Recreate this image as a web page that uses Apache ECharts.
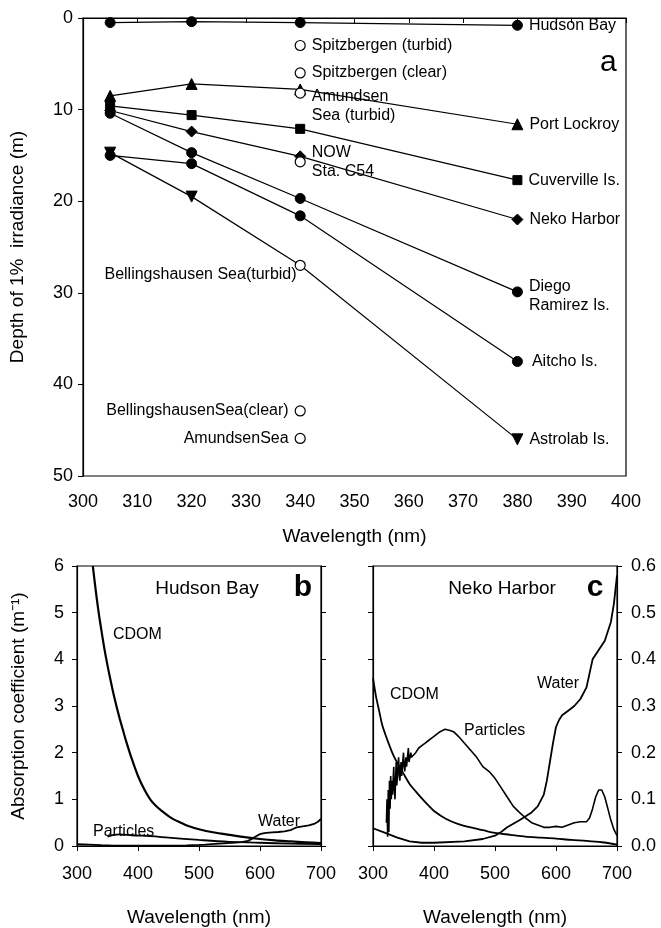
<!DOCTYPE html>
<html>
<head>
<meta charset="utf-8">
<script src="https://cdn.jsdelivr.net/npm/echarts@6/dist/echarts.min.js"></script>
<style>
  html, body { margin: 0; padding: 0; background: #fff; }
  #chart { width: 661px; height: 928px; }
</style>
</head>
<body>
<div id="chart"></div>
<script>
// panel a: depth of 1% irradiance (m) at each wavelength (nm)
const waveA = [305, 320, 340, 380];
const hudsonBay = [0.5, 0.4, 0.5, 0.8];
const portLockroy = [8.5, 7.2, 7.8, 11.6];
const cuverville = [9.6, 10.6, 12.1, 17.7];
const nekoHarbor = [10.1, 12.4, 15.1, 22.0];
const diegoRamirez = [10.4, 14.7, 19.7, 29.9];
const aitcho = [15.0, 15.9, 21.6, 37.5];
const astrolab = [14.7, 19.5, 27.0, 46.0];

// open circles, all at 340 nm
const openWave = 340;
const openNames = ['Spitzbergen (turbid)', 'Spitzbergen (clear)', 'Amundsen\nSea (turbid)', 'NOW\nSta. C54',
  'Bellingshausen Sea(turbid)', 'BellingshausenSea(clear)', 'AmundsenSea'];
const openDepths = [3.0, 6.0, 8.2, 15.7, 27.0, 42.9, 45.9];

// panel b: Hudson Bay absorption (m-1)
const cdomHudson = [[326, 6.0], [330, 5.55], [335, 5.05], [340, 4.62], [345, 4.22], [350, 3.87], [355, 3.55],
  [360, 3.25], [365, 2.98], [370, 2.73], [375, 2.5], [380, 2.27], [390, 1.86], [400, 1.5], [410, 1.22],
  [420, 1.0], [430, 0.85], [440, 0.74], [450, 0.64], [460, 0.56], [470, 0.5], [480, 0.44], [500, 0.36],
  [525, 0.29], [550, 0.24], [575, 0.19], [600, 0.15], [625, 0.12], [650, 0.1], [675, 0.08], [700, 0.06]];
const particlesHudson = [[350, 0.2], [360, 0.24], [370, 0.25], [390, 0.23], [420, 0.21], [450, 0.18],
  [500, 0.13], [550, 0.09], [600, 0.07], [650, 0.05], [700, 0.04]];

// pure water, same in both panels
const waterAbs = [[300, 0.038], [320, 0.028], [340, 0.018], [360, 0.01], [380, 0.007], [400, 0.007], [450, 0.01],
  [480, 0.015], [500, 0.022], [510, 0.03], [520, 0.04], [540, 0.055], [560, 0.072], [570, 0.085], [580, 0.11],
  [585, 0.14], [590, 0.18], [595, 0.22], [600, 0.255], [605, 0.27], [610, 0.28], [620, 0.29], [630, 0.3],
  [640, 0.315], [650, 0.34], [655, 0.37], [660, 0.4], [670, 0.42], [680, 0.44], [690, 0.48], [695, 0.52], [700, 0.58]];

// panel c: Neko Harbor absorption (m-1)
const cdomNeko = [[300, 0.36], [305, 0.32], [310, 0.29], [315, 0.26], [320, 0.24], [325, 0.222], [330, 0.205],
  [335, 0.19], [340, 0.178], [350, 0.155], [360, 0.133], [370, 0.117], [380, 0.102], [390, 0.088], [400, 0.075],
  [420, 0.058], [440, 0.047], [460, 0.04], [480, 0.034], [500, 0.028], [525, 0.024], [550, 0.02], [575, 0.018],
  [600, 0.016], [625, 0.013], [650, 0.011], [675, 0.008], [700, 0.003]];
const particlesNeko = [[322, 0.05], [323, 0.1], [324, 0.02], [325, 0.12], [326, 0.03], [327, 0.14], [328, 0.08],
  [329, 0.15], [330, 0.1], [331, 0.14], [332, 0.11], [334, 0.17], [335, 0.12], [336, 0.1], [338, 0.18], [339, 0.13],
  [340, 0.15], [342, 0.19], [343, 0.15], [344, 0.14], [346, 0.18], [347, 0.15], [348, 0.15], [350, 0.2], [351, 0.17],
  [352, 0.16], [354, 0.19], [355, 0.17], [356, 0.17], [358, 0.21], [359, 0.18], [360, 0.18], [362, 0.2], [363, 0.19],
  [365, 0.19], [370, 0.2], [375, 0.21], [380, 0.215], [385, 0.22], [390, 0.225], [395, 0.23], [400, 0.235],
  [410, 0.245], [418, 0.25], [425, 0.248], [432, 0.245], [440, 0.235], [450, 0.22], [460, 0.205], [470, 0.19],
  [480, 0.17], [490, 0.16], [500, 0.145], [510, 0.125], [520, 0.105], [530, 0.085], [540, 0.072], [550, 0.06],
  [560, 0.05], [570, 0.045], [580, 0.04], [590, 0.04], [600, 0.042], [610, 0.04], [620, 0.045], [630, 0.05],
  [640, 0.052], [650, 0.052], [655, 0.06], [660, 0.08], [665, 0.105], [670, 0.12], [675, 0.12], [680, 0.105],
  [685, 0.08], [690, 0.055], [695, 0.035], [700, 0.022]];

const FONT = 'Liberation Sans, Arial, Helvetica, sans-serif';
const chart = echarts.init(document.getElementById('chart'));

function pair(xs, ys) { return xs.map((x, i) => [x, ys[i]]); }

const nameStyle = { fontSize: 19, color: '#000', fontFamily: FONT };

function xAx(grid, min, max, interval, gap, margin) {
  return {
    type: 'value', gridIndex: grid, min: min, max: max, interval: interval,
    name: 'Wavelength (nm)', nameLocation: 'middle', nameGap: gap,
    nameTextStyle: nameStyle,
    axisLine: { show: true, lineStyle: { color: '#000', width: 1.2 } },
    axisTick: { show: true, inside: false, length: 5, lineStyle: { color: '#000' } },
    axisLabel: { fontSize: 18, color: '#000', fontFamily: FONT, margin: margin },
    splitLine: { show: false }
  };
}
function yAx(grid, min, max, interval, opts) {
  return Object.assign({
    type: 'value', gridIndex: grid, min: min, max: max, interval: interval,
    axisLine: { show: true, lineStyle: { color: '#000', width: 1.2 } },
    axisTick: { show: true, inside: false, length: 5, lineStyle: { color: '#000' } },
    axisLabel: { fontSize: 18, color: '#000', fontFamily: FONT },
    splitLine: { show: false }
  }, opts);
}

const labelStyle = { color: '#000', fontSize: 16, fontFamily: FONT, lineHeight: 19, opacity: 1 };

function station(name, values, symbol, size, rotate, labelOpts) {
  return {
    name: name, type: 'line', xAxisIndex: 0, yAxisIndex: 0,
    data: pair(waveA, values),
    symbol: symbol, symbolSize: size, symbolRotate: rotate || 0,
    showAllSymbol: true,
    lineStyle: { color: '#000', width: 1.2 },
    itemStyle: { color: '#000', borderColor: '#000', opacity: 1 },
    z: 3,
    label: Object.assign({
      show: true, position: 'right', distance: 6,
      formatter: p => p.dataIndex === waveA.length - 1 ? name : ''
    }, labelStyle, labelOpts || {}),
    animation: false
  };
}

// label placement for the open circles (index -> side)
const openLeft = [4, 5, 6];
const openOffset = { 2: [0, 13], 4: [2, 9] };
const openData = openDepths.map((d, i) => ({
  value: [openWave, d],
  label: {
    position: openLeft.indexOf(i) >= 0 ? 'left' : 'right',
    distance: i === 4 ? 0 : 6,
    offset: openOffset[i] || [0, 0]
  }
}));

function curve(data, xi, yi, w, smooth) {
  return {
    type: 'line', xAxisIndex: xi, yAxisIndex: yi, data: data,
    showSymbol: false, symbol: 'none', smooth: smooth || false,
    lineStyle: { color: '#000', width: w }, animation: false
  };
}

function txt(x, y, text, size, align, weight) {
  return {
    type: 'text', x: x, y: y, z: 10,
    style: { text: text, fill: '#000', fontSize: size, fontFamily: FONT, fontWeight: weight || 'normal',
      align: align || 'left', verticalAlign: 'middle' }
  };
}

const option = {
  backgroundColor: '#fff',
  animation: false,
  grid: [
    { left: 73, top: 18, width: 553, height: 458, show: true, borderColor: '#000', borderWidth: 1.2, backgroundColor: 'transparent' },
    { left: 77, top: 566, width: 244, height: 288, show: true, borderColor: '#000', borderWidth: 1.2, backgroundColor: 'transparent' },
    { left: 373, top: 566, width: 244, height: 288, show: true, borderColor: '#000', borderWidth: 1.2, backgroundColor: 'transparent' }
  ],
  xAxis: [
    xAx(0, 300, 400, 10, 51, 17),
    xAx(1, 300, 700, 100, 62, 19),
    xAx(2, 300, 700, 100, 62, 19)
  ],
  yAxis: [
    yAx(0, 0, 50, 10, {
      inverse: true, name: 'Depth of 1%  irradiance (m)', nameLocation: 'middle', nameGap: 56, nameRotate: 90,
      nameTextStyle: nameStyle,
      axisLabel: { fontSize: 18, color: '#000', fontFamily: FONT, margin: 10 }
    }),
    yAx(1, 0, 6, 1, {
      name: 'Absorption coefficient (m\u207B\u00B9)', nameLocation: 'middle', nameGap: 49, nameRotate: 90,
      nameTextStyle: nameStyle,
      axisLabel: { fontSize: 18, color: '#000', fontFamily: FONT, margin: 13 }
    }),
    yAx(1, 0, 6, 1, { position: 'right', axisLabel: { show: false } }),
    yAx(2, 0, 0.6, 0.1, { position: 'left', axisLabel: { show: false } }),
    yAx(2, 0, 0.6, 0.1, {
      position: 'right',
      axisLabel: { fontSize: 18, color: '#000', fontFamily: FONT, margin: 14, formatter: v => v.toFixed(1) }
    })
  ],
  series: [
    station('Hudson Bay', hudsonBay, 'circle', 10, 0, { distance: 6 }),
    station('Port Lockroy', portLockroy, 'triangle', 11, 0),
    station('Cuverville Is.', cuverville, 'rect', 9, 0),
    station('Neko Harbor', nekoHarbor, 'diamond', 11, 0),
    station('Diego\nRamirez Is.', diegoRamirez, 'circle', 10, 0, { offset: [0, 4] }),
    station('Aitcho Is.', aitcho, 'circle', 10, 0, { distance: 9 }),
    Object.assign(station('Astrolab Is.', astrolab, 'triangle', 11, 180), {
      symbolSize: (v, p) => p.dataIndex === 2 ? 0 : 11
    }),
    {
      name: 'open', type: 'scatter', xAxisIndex: 0, yAxisIndex: 0, z: 5,
      data: openData, symbol: 'circle', symbolSize: 10,
      itemStyle: { color: '#fff', borderColor: '#000', borderWidth: 1.2, opacity: 1 },
      label: Object.assign({ show: true, formatter: p => openNames[p.dataIndex] }, labelStyle),
      animation: false
    },
    curve(cdomHudson, 1, 1, 2.2, 0.3),
    curve(particlesHudson, 1, 1, 1.8, 0.4),
    curve(waterAbs, 1, 1, 1.8),
    curve(cdomNeko, 2, 4, 1.8, 0.3),
    curve(particlesNeko, 2, 4, 1.6),
    curve(waterAbs, 2, 4, 1.8)
  ],
  graphic: [
    txt(600, 63, 'a', 30),
    txt(207, 589, 'Hudson Bay', 19, 'center'),
    txt(303, 588, 'b', 30, 'center', 'bold'),
    txt(113, 635, 'CDOM', 16),
    txt(93, 832, 'Particles', 16),
    txt(258, 822, 'Water', 16),
    txt(502, 589, 'Neko Harbor', 19, 'center'),
    txt(595, 588, 'c', 30, 'center', 'bold'),
    txt(390, 695, 'CDOM', 16),
    txt(464, 731, 'Particles', 16),
    txt(537, 684, 'Water', 16)
  ]
};
chart.setOption(option);
</script>
</body>
</html>
